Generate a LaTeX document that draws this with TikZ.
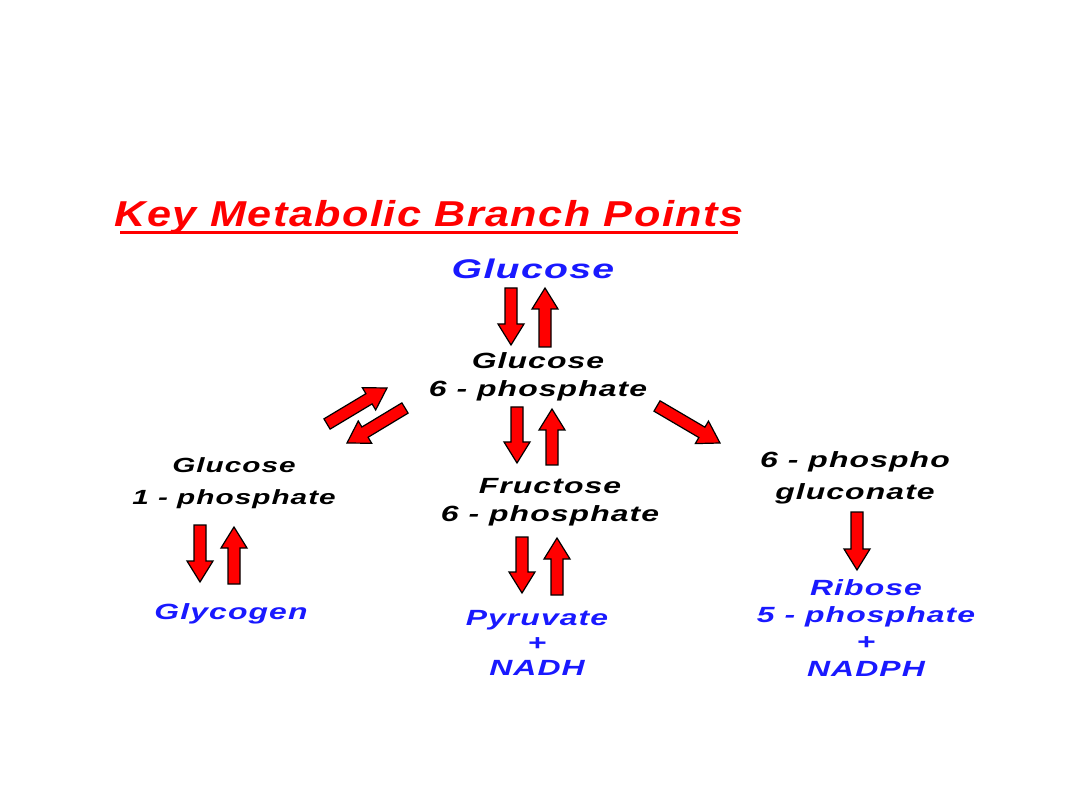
\documentclass[tikz,border=0pt]{standalone}
\usepackage{fontspec}
\usetikzlibrary{calc}
\newfontfamily\slidefont{Liberation Sans}[FakeStretch=1.45,LetterSpace=5]
\newfontfamily\titlefont{Liberation Sans}[FakeStretch=1.2,LetterSpace=4]
\definecolor{branchRed}{rgb}{1,0,0}
\definecolor{branchBlue}{rgb}{0.1,0.1,1}
% block arrow from #1 to #2 (shaft 6pt, head 13pt, head length 21pt)
\newcommand{\blockarrow}[2]{%
  \coordinate (ba-h) at ($(#2)!21pt!(#1)$);
  \filldraw[fill=branchRed, draw=black, line width=1.2pt, line join=miter]
    ($(#1)!6pt!90:(#2)$) -- ($(ba-h)!6pt!90:(#2)$) -- ($(ba-h)!13pt!90:(#2)$)
    -- (#2) -- ($(ba-h)!13pt!-90:(#2)$) -- ($(ba-h)!6pt!-90:(#2)$)
    -- ($(#1)!6pt!-90:(#2)$) -- cycle;}
\begin{document}
\begin{tikzpicture}[x=1pt, y=-1pt,
  label/.style={font=\slidefont\bfseries\itshape\fontsize{22}{28}\selectfont, align=center, inner sep=0pt},
  product/.style={label, text=branchBlue, font=\slidefont\bfseries\itshape\fontsize{22}{27}\selectfont}]
\useasboundingbox[fill=white] (0,0) rectangle (1080,810);
% Title
\node[inner sep=0pt, text=branchRed, font=\titlefont\bfseries\itshape\fontsize{36}{40}\selectfont] (title) at (429,217) {Key Metabolic Branch Points};
\draw[branchRed, line width=3pt] (120,233) -- (738,233);
% Metabolites
\node[product, font=\slidefont\bfseries\itshape\fontsize{27}{32}\selectfont] (glc) at (533,269) {Glucose};
\node[label] (g6p) at (538,377) {Glucose\\6 - phosphate};
\node[label, font=\slidefont\bfseries\itshape\fontsize{20.5}{32}\selectfont] (g1p) at (234,483) {Glucose\\1 - phosphate};
\node[label] (f6p) at (550,502) {Fructose\\6 - phosphate};
\node[label, font=\slidefont\bfseries\itshape\fontsize{22}{32}\selectfont] (pg6) at (855,478) {6 - phospho\\gluconate};
\node[product] (glyc) at (231,614) {Glycogen};
\node[product, font=\slidefont\bfseries\itshape\fontsize{22}{25}\selectfont] (pyr) at (537,643) {Pyruvate\\+\\NADH};
\node[product] (rib) at (866,628) {Ribose\\5 - phosphate\\+\\NADPH};
% Arrow ends
\coordinate (glcDnA) at (511,288); \coordinate (glcDnB) at (511,345);
\coordinate (glcUpA) at (545,347); \coordinate (glcUpB) at (545,288);
\coordinate (g6pDnA) at (517,407); \coordinate (g6pDnB) at (517,463);
\coordinate (g6pUpA) at (552,465); \coordinate (g6pUpB) at (552,409);
\coordinate (f6pDnA) at (522,537); \coordinate (f6pDnB) at (522,593);
\coordinate (f6pUpA) at (557,595); \coordinate (f6pUpB) at (557,538);
\coordinate (g1pDnA) at (200,525); \coordinate (g1pDnB) at (200,582);
\coordinate (g1pUpA) at (234,584); \coordinate (g1pUpB) at (234,527);
\coordinate (g1pToA) at (327,424); \coordinate (g1pToB) at (387,388);
\coordinate (g1pFrA) at (405,408); \coordinate (g1pFrB) at (347,443);
\coordinate (pgToA) at (657,406);  \coordinate (pgToB) at (720,443);
\coordinate (ribDnA) at (857,512); \coordinate (ribDnB) at (857,570);
% Block arrows
\blockarrow{glcDnA}{glcDnB}
\blockarrow{glcUpA}{glcUpB}
\blockarrow{g6pDnA}{g6pDnB}
\blockarrow{g6pUpA}{g6pUpB}
\blockarrow{f6pDnA}{f6pDnB}
\blockarrow{f6pUpA}{f6pUpB}
\blockarrow{g1pDnA}{g1pDnB}
\blockarrow{g1pUpA}{g1pUpB}
\blockarrow{g1pToA}{g1pToB}
\blockarrow{g1pFrA}{g1pFrB}
\blockarrow{pgToA}{pgToB}
\blockarrow{ribDnA}{ribDnB}
\end{tikzpicture}
\end{document}
